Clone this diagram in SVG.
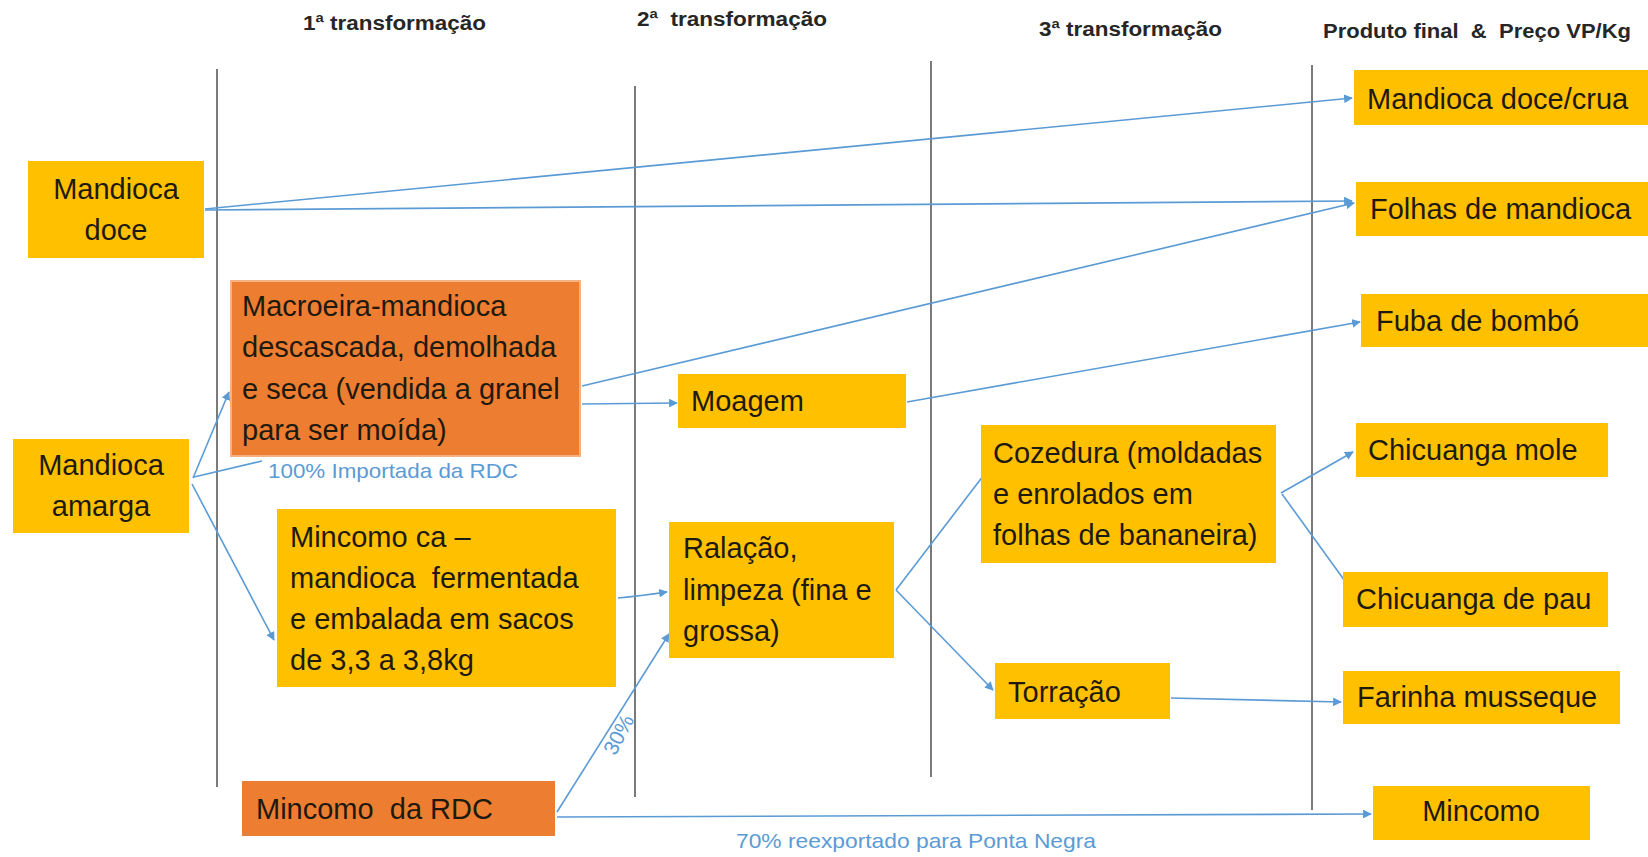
<svg xmlns="http://www.w3.org/2000/svg" width="1648" height="857" viewBox="0 0 1648 857">
<defs>
<style>
.hdr{font-family:"Liberation Sans",Arial,sans-serif;font-weight:bold;font-size:20px;fill:#262626}
.t{font-family:"Liberation Sans",Arial,sans-serif;font-size:29px;fill:#1f1a10}
.lbl{font-family:"Liberation Sans",Arial,sans-serif;font-size:21px;fill:#5B9BD5}
.y{fill:#FFC000}
.o{fill:#ED7D31}
.v{stroke:#595959;stroke-width:1.6;fill:none}
.c{stroke:#5B9BD5;stroke-width:1.6;fill:none}
</style>
<marker id="ah" viewBox="0 0 10 10" refX="9" refY="5" markerWidth="5.5" markerHeight="5.5" orient="auto" markerUnits="strokeWidth">
<path d="M0,0 L10,5 L0,10 z" fill="#5B9BD5"/>
</marker>
</defs>
<rect width="1648" height="857" fill="#ffffff"/>

<g id="headers">
<text class="hdr" x="303" y="30" textLength="183" lengthAdjust="spacingAndGlyphs">1ª transformação</text>
<text class="hdr" x="637" y="26" textLength="190" lengthAdjust="spacingAndGlyphs">2ª&#160; transformação</text>
<text class="hdr" x="1039" y="36" textLength="183" lengthAdjust="spacingAndGlyphs">3ª transformação</text>
<text class="hdr" x="1323" y="38" textLength="308" lengthAdjust="spacingAndGlyphs">Produto final&#160; &amp;&#160; Preço VP/Kg</text>
</g>

<g id="dividers">
<line class="v" x1="217" y1="69" x2="217" y2="787"/>
<line class="v" x1="635" y1="86" x2="635" y2="797"/>
<line class="v" x1="931" y1="61" x2="931" y2="777"/>
<line class="v" x1="1312" y1="65" x2="1312" y2="810"/>
</g>

<g id="connectors">
<line class="c" x1="205" y1="209" x2="1352" y2="98" marker-end="url(#ah)"/>
<line class="c" x1="205" y1="210" x2="1352" y2="201" marker-end="url(#ah)"/>
<line class="c" x1="582" y1="386" x2="1354" y2="203" marker-end="url(#ah)"/>
<line class="c" x1="582" y1="404" x2="677" y2="403" marker-end="url(#ah)"/>
<line class="c" x1="907" y1="402" x2="1360" y2="322" marker-end="url(#ah)"/>
<line class="c" x1="193" y1="478" x2="229" y2="392" marker-end="url(#ah)"/>
<line class="c" x1="194" y1="477" x2="262" y2="461"/>
<line class="c" x1="192" y1="484" x2="274" y2="640" marker-end="url(#ah)"/>
<path class="c" d="M618,598 Q640,596 667,592" marker-end="url(#ah)"/>
<line class="c" x1="557" y1="812" x2="669" y2="634" marker-end="url(#ah)"/>
<line class="c" x1="557" y1="817" x2="1371" y2="814" marker-end="url(#ah)"/>
<line class="c" x1="896" y1="590" x2="993" y2="463" marker-end="url(#ah)"/>
<line class="c" x1="896" y1="590" x2="993" y2="690" marker-end="url(#ah)"/>
<line class="c" x1="1281" y1="493" x2="1353" y2="452" marker-end="url(#ah)"/>
<line class="c" x1="1282" y1="494" x2="1355" y2="595" marker-end="url(#ah)"/>
<line class="c" x1="1171" y1="698" x2="1341" y2="702" marker-end="url(#ah)"/>
<text class="lbl" x="268" y="478" textLength="250" lengthAdjust="spacingAndGlyphs">100% Importada da RDC</text>
<text class="lbl" transform="translate(625,738) rotate(-62)" text-anchor="middle">30%</text>
<text class="lbl" x="736" y="848" textLength="360" lengthAdjust="spacingAndGlyphs">70% reexportado para Ponta Negra</text>
</g>

<g id="mandioca-doce">
<rect class="y" x="28" y="161" width="176" height="97"/>
<text class="t" x="116" y="199" text-anchor="middle">Mandioca</text>
<text class="t" x="116" y="240" text-anchor="middle">doce</text>
</g>

<g id="mandioca-amarga">
<rect class="y" x="13" y="439" width="176" height="94"/>
<text class="t" x="101" y="475" text-anchor="middle">Mandioca</text>
<text class="t" x="101" y="516" text-anchor="middle">amarga</text>
</g>

<g id="macroeira">
<rect class="o" x="231" y="281" width="349" height="175" stroke="#F4B183" stroke-width="2"/>
<text class="t" x="242" y="316">Macroeira-mandioca</text>
<text class="t" x="242" y="357">descascada, demolhada</text>
<text class="t" x="242" y="399">e seca (vendida a granel</text>
<text class="t" x="242" y="440">para ser moída)</text>
</g>

<g id="mincomo-ca">
<rect class="y" x="277" y="509" width="339" height="178"/>
<text class="t" x="290" y="547">Mincomo ca –</text>
<text class="t" x="290" y="588">mandioca&#160; fermentada</text>
<text class="t" x="290" y="629">e embalada em sacos</text>
<text class="t" x="290" y="670">de 3,3 a 3,8kg</text>
</g>

<g id="mincomo-rdc">
<rect class="o" x="242" y="781" width="313" height="55"/>
<text class="t" x="256" y="819">Mincomo&#160; da RDC</text>
</g>

<g id="moagem">
<rect class="y" x="678" y="374" width="228" height="54"/>
<text class="t" x="691" y="411">Moagem</text>
</g>

<g id="ralacao">
<rect class="y" x="669" y="522" width="225" height="136"/>
<text class="t" x="683" y="558">Ralação,</text>
<text class="t" x="683" y="600">limpeza (fina e</text>
<text class="t" x="683" y="641">grossa)</text>
</g>

<g id="cozedura">
<rect class="y" x="981" y="425" width="295" height="138"/>
<text class="t" x="993" y="463">Cozedura (moldadas</text>
<text class="t" x="993" y="504">e enrolados em</text>
<text class="t" x="993" y="545">folhas de bananeira)</text>
</g>

<g id="torracao">
<rect class="y" x="995" y="663" width="175" height="56"/>
<text class="t" x="1008" y="702">Torração</text>
</g>

<g id="mandioca-doce-crua">
<rect class="y" x="1354" y="70" width="294" height="55"/>
<text class="t" x="1367" y="109">Mandioca doce/crua</text>
</g>

<g id="folhas">
<rect class="y" x="1356" y="182" width="292" height="54"/>
<text class="t" x="1370" y="219">Folhas de mandioca</text>
</g>

<g id="fuba">
<rect class="y" x="1361" y="294" width="287" height="53"/>
<text class="t" x="1376" y="331">Fuba de bombó</text>
</g>

<g id="chicuanga-mole">
<rect class="y" x="1356" y="423" width="252" height="54"/>
<text class="t" x="1368" y="460">Chicuanga mole</text>
</g>

<g id="chicuanga-pau">
<rect class="y" x="1343" y="572" width="265" height="55"/>
<text class="t" x="1356" y="609">Chicuanga de pau</text>
</g>

<g id="farinha">
<rect class="y" x="1343" y="671" width="277" height="53"/>
<text class="t" x="1357" y="707">Farinha musseque</text>
</g>

<g id="mincomo">
<rect class="y" x="1373" y="786" width="217" height="54"/>
<text class="t" x="1481" y="821" text-anchor="middle">Mincomo</text>
</g>
</svg>
